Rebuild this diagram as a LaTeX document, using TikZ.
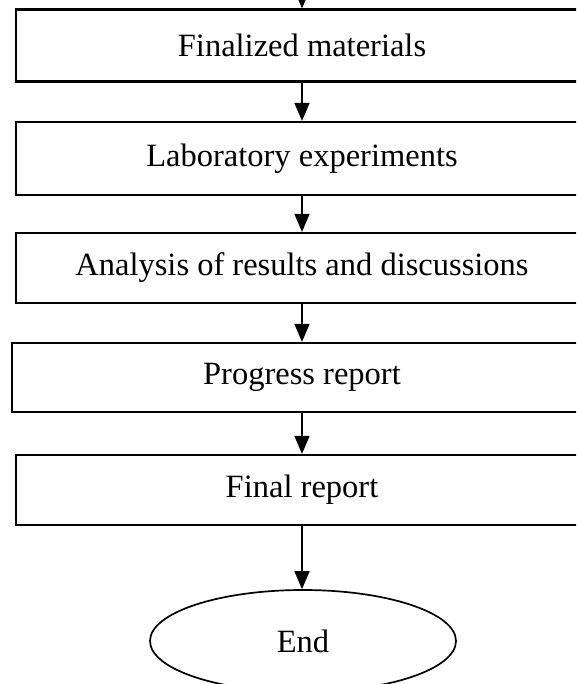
\documentclass[tikz,border=0pt]{standalone}
\usepackage{fontspec}
\setmainfont{Liberation Serif}
\usetikzlibrary{arrows.meta,shapes.geometric}
\begin{document}
\begin{tikzpicture}[x=1pt,y=-1pt,
  stepbox/.style={draw,line width=2.2pt,rectangle,minimum width=572pt,inner sep=0pt,
    font=\fontsize{32.5}{38}\selectfont},
  endshape/.style={draw,line width=1.7pt,ellipse,minimum width=306pt,minimum height=102pt,inner sep=0pt,
    font=\fontsize{32.5}{38}\selectfont},
  conn/.style={line width=1.6pt,-{Triangle[width=15pt,length=18pt]}}]
\useasboundingbox (0,0) rectangle (576,684);
\clip (0,0) rectangle (576,684);
\coordinate (start) at (302,-30);
\node[stepbox,minimum height=72pt] (b1) at (302,45.5) {Finalized materials};
\node[stepbox,minimum height=73pt] (b2) at (302,158.5) {Laboratory experiments};
\node[stepbox,minimum height=70pt] (b3) at (302,268) {Analysis of results and discussions};
\node[stepbox,minimum height=69pt,minimum width=580pt] (b4) at (302,377.5) {Progress report};
\node[stepbox,minimum height=70pt] (b5) at (302,490) {Final report};
\node[endshape] (e) at (303,641) {End};
\draw[conn] (start) -- (b1.north);
\draw[conn] (b1.south) -- (b2.north);
\draw[conn] (b2.south) -- (b3.north);
\draw[conn] (b3.south) -- (b4.north);
\draw[conn] (b4.south) -- (b5.north);
\draw[conn] (b5.south) -- (b5.south |- e.north);
\end{tikzpicture}
\end{document}
